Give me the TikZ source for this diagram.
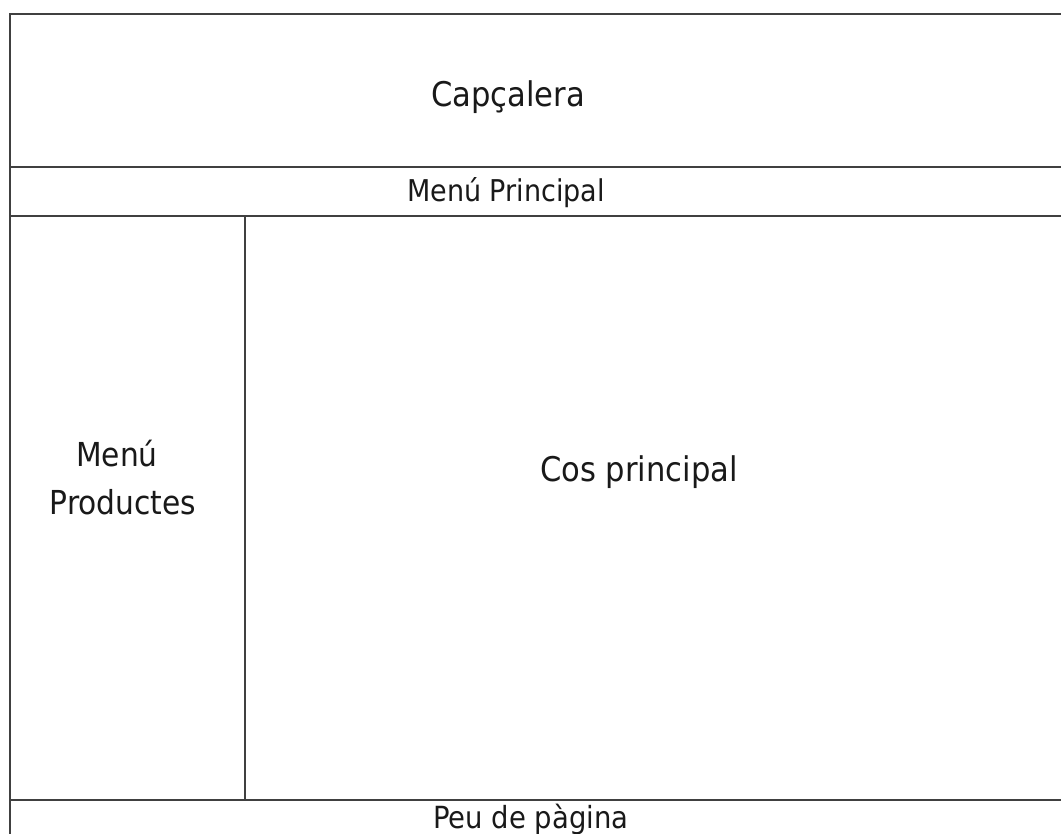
\documentclass[tikz,border=0pt]{standalone}
\usepackage{fontspec}
\setmainfont{DejaVu Sans Condensed}
\begin{document}
\begin{tikzpicture}[x=1pt,y=-1pt,
  frame/.style={draw=black!75, line width=1.6pt},
  lbl/.style={inner sep=0pt, align=center, text=black!90}]
\useasboundingbox (0,0) rectangle (1061,834);
\clip (0,0) rectangle (1061,834);
\fill[white] (0,0) rectangle (1061,834);
\draw[frame] (1070,14) -- (10,14) -- (10,840);
\draw[frame] (10,167) -- (1070,167);
\draw[frame] (10,216) -- (1070,216);
\draw[frame] (10,800) -- (1070,800);
\draw[frame] (245,216) -- (245,800);
\node[lbl, font=\fontsize{34}{42}\selectfont, anchor=base] (cap) at (508,107) {Capçalera};
\node[lbl, font=\fontsize{30}{36}\selectfont, anchor=base] (menu) at (506,202) {Menú Principal};
\node[lbl, font=\fontsize{33}{48}\selectfont] (prod) at (123,478) {Menú\hspace*{12pt}\\Productes};
\node[lbl, font=\fontsize{34}{40}\selectfont, anchor=base] (cos) at (639,482) {Cos principal};
\node[lbl, font=\fontsize{30.5}{36}\selectfont, anchor=base] (peu) at (531,828) {Peu de pàgina};
\end{tikzpicture}
\end{document}
